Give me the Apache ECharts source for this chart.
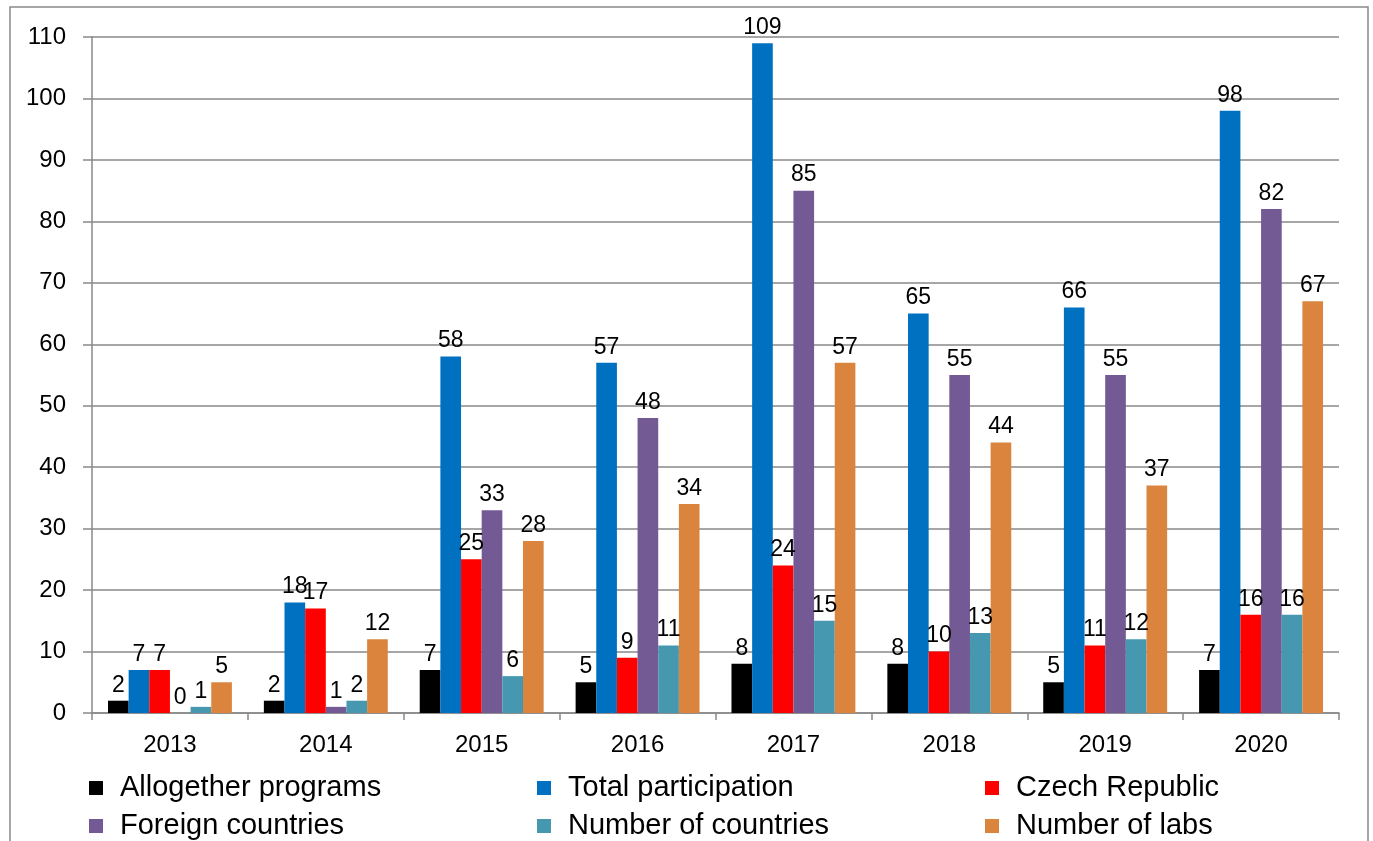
<!DOCTYPE html>
<html>
<head>
<meta charset="utf-8">
<script src="https://cdn.jsdelivr.net/npm/echarts@6/dist/echarts.min.js"></script>
<style>
  html, body { margin: 0; padding: 0; background: #fff; }
  #myChart { width: 1373px; height: 841px; }
</style>
</head>
<body>
<div id="myChart"></div>
<script>
const years = ['2013', '2014', '2015', '2016', '2017', '2018', '2019', '2020']
const allogetherPrograms = [2, 2, 7, 5, 8, 8, 5, 7]
const totalParticipation = [7, 18, 58, 57, 109, 65, 66, 98]
const czechRepublic = [7, 17, 25, 9, 24, 10, 11, 16]
const foreignCountries = [0, 1, 33, 48, 85, 55, 55, 82]
const numberOfCountries = [1, 2, 6, 11, 15, 13, 12, 16]
const numberOfLabs = [5, 12, 28, 34, 57, 44, 37, 67]

const font = 'Liberation Sans, Arial, sans-serif'
const gray = '#898989'

function bar(name, data, color) {
  return {
    name: name,
    type: 'bar',
    data: data,
    barGap: 0,
    barCategoryGap: '20.5%',
    itemStyle: { color: color },
    label: {
      show: true,
      position: 'top',
      distance: 4,
      color: '#000',
      fontFamily: font,
      fontSize: 23
    }
  }
}

const myChart = echarts.init(document.getElementById('myChart'))
myChart.setOption({
  animation: false,
  backgroundColor: '#fff',
  graphic: [{
    type: 'rect',
    shape: { x: 10, y: 7, width: 1358, height: 860 },
    style: { fill: 'none', stroke: gray, lineWidth: 1.5 }
  }],
  grid: { left: 92, right: 34, top: 37, bottom: 128 },
  legend: {
    left: 89,
    top: 769,
    width: 1380,
    padding: 0,
    itemGap: 0,
    itemWidth: 14,
    itemHeight: 14,
    icon: 'rect',
    textStyle: {
      fontFamily: font,
      fontSize: 29,
      color: '#000',
      width: 417,
      lineHeight: 38,
      padding: [0, 0, 0, 12]
    }
  },
  xAxis: {
    type: 'category',
    data: years,
    axisLine: { lineStyle: { color: gray, width: 1.5 } },
    axisTick: { show: true, length: 7, lineStyle: { color: gray, width: 1.5 } },
    axisLabel: { color: '#000', fontFamily: font, fontSize: 24, margin: 20 }
  },
  yAxis: {
    type: 'value',
    min: 0,
    max: 110,
    interval: 10,
    axisLine: { show: true, lineStyle: { color: gray, width: 1.5 } },
    axisTick: { show: true, inside: false, length: 9, lineStyle: { color: gray, width: 1.5 } },
    splitLine: { lineStyle: { color: gray, width: 1.5 } },
    axisLabel: { color: '#000', fontFamily: font, fontSize: 24, margin: 26 }
  },
  series: [
    bar('Allogether programs', allogetherPrograms, '#000000'),
    bar('Total participation', totalParticipation, '#0070C0'),
    bar('Czech Republic', czechRepublic, '#FF0000'),
    bar('Foreign countries', foreignCountries, '#735A95'),
    bar('Number of countries', numberOfCountries, '#4598B0'),
    bar('Number of labs', numberOfLabs, '#DA843D')
  ]
})
</script>
</body>
</html>
